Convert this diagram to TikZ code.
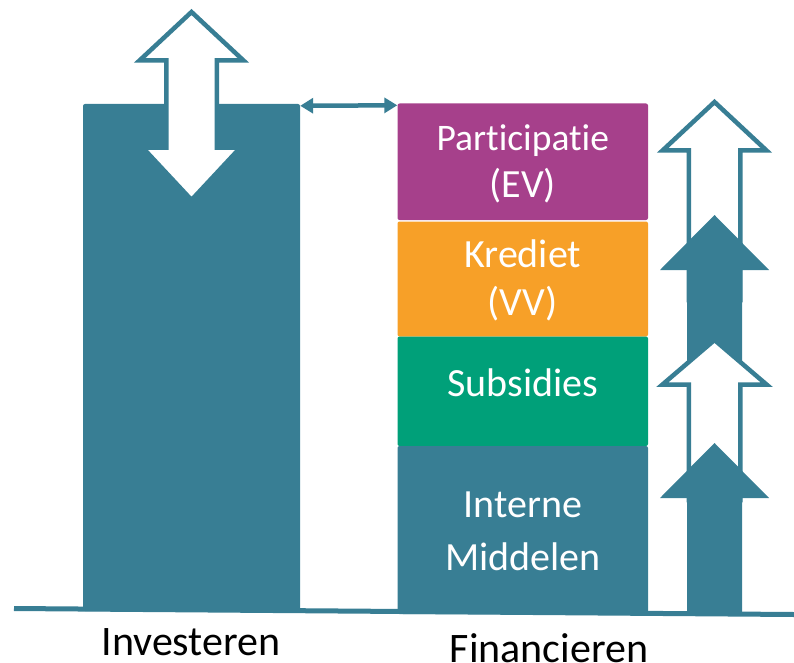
\documentclass[tikz,border=0pt]{standalone}
\usepackage{fontspec}
\setmainfont{Carlito}[Ligatures=NoCommon]
\usetikzlibrary{arrows.meta}
\definecolor{tealc}{RGB}{56,126,148}
\definecolor{purplec}{RGB}{166,64,139}
\definecolor{orangec}{RGB}{247,160,40}
\definecolor{greenc}{RGB}{0,160,121}
\tikzset{
  box/.style={fill=#1, draw=none, rounded corners=2pt, inner sep=0pt, minimum width=250.5pt},
  boxtxt/.style={text=white, anchor=base, inner sep=0pt, font=\fontsize{40}{48}\selectfont},
  outarrow/.style={draw=tealc, fill=white, line width=4.5pt, miter limit=10},
  lbl/.style={font=\fontsize{42}{50}\selectfont, text=black, anchor=base, inner sep=0pt, text depth=0pt}
}
\begin{document}
\begin{tikzpicture}[x=1pt,y=-1pt]
\useasboundingbox (0,0) rectangle (794,663);
% baseline
\draw[tealc, line width=5pt] (14,608.5) -- (794,614.5);
% investeren bar
\node[fill=tealc, rounded corners=2pt, inner sep=0pt, minimum width=217pt, minimum height=507pt] (inv) at (191.5,357.5) {};
% double arrow on bar
\draw[outarrow] (191.5,12) -- (243.5,60.5) -- (216.75,60.5) -- (216.75,147.75) -- (240.25,147.75)
  -- (191.5,200) -- (142.75,147.75) -- (166.25,147.75) -- (166.25,60.5) -- (139.5,60.5) -- cycle;
% stack
\node[box=purplec, minimum height=116.5pt] (part) at (522.75,161.75) {};
\node[box=orangec, minimum height=115pt] (kred) at (522.75,279) {};
\node[box=greenc, minimum height=109.5pt] (subs) at (522.75,391.25) {};
\node[box=tealc, minimum height=168pt] (intm) at (522.75,530) {};
\node[boxtxt, font=\fontsize{37.5}{45}\selectfont] (part1) at (522.75,151) {Participatie};
\node[boxtxt] (part2) at (522.75,197.5) {(EV)};
\node[boxtxt] (kred1) at (522.75,267.3) {Krediet};
\node[boxtxt] (kred2) at (522.75,315.5) {(VV)};
\node[boxtxt] (subs1) at (522.75,396.7) {Subsidies};
\node[boxtxt] (intm1) at (522.75,517.3) {Interne};
\node[boxtxt] (intm2) at (522.75,570) {Middelen};
% connector
\draw[tealc, line width=4.5pt, {Triangle[length=13pt,width=15pt]}-{Triangle[length=13pt,width=15pt]}]
  ([yshift=-2pt]inv.north east) -- ([yshift=-2pt]part.north west);
% right arrows
\draw[outarrow] (714.5,102) -- (766.5,150.5) -- (740.25,150.5) -- (740.25,300) -- (688.75,300) -- (688.75,150.5) -- (662.5,150.5) -- cycle;
\fill[tealc] (714.5,215) -- (769,270) -- (742,270) -- (742,380) -- (687,380) -- (687,270) -- (660,270) -- cycle;
\draw[outarrow] (714.5,340) -- (766.5,384.5) -- (740.25,384.5) -- (740.25,500) -- (688.75,500) -- (688.75,384.5) -- (662.5,384.5) -- cycle;
\fill[tealc] (714.5,443) -- (769,498) -- (742,498) -- (742,614) -- (687,614) -- (687,498) -- (660,498) -- cycle;
% labels
\node[lbl] (linv) at (191,655.5) {Investeren};
\node[lbl] (lfin) at (549,662) {Financieren};
\end{tikzpicture}
\end{document}
